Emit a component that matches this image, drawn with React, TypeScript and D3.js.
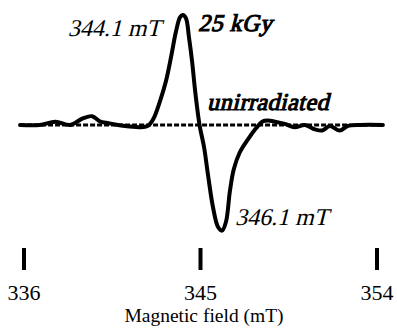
import { useRef, useEffect } from "react";
import * as d3 from "d3";

// 25 kGy spectrum (field in mT, relative intensity)
const irrField = [
  335.8, 336.8, 337.6, 338.35, 339.0, 339.47, 339.9, 340.2, 340.5, 341.15, 341.9, 342.3,
  342.58, 342.94, 343.24, 343.5, 343.75, 343.96, 344.1, 344.26, 344.41, 344.57, 344.72,
  344.87, 344.97, 345.18, 345.38, 345.64, 345.9, 346.1, 346.3, 346.5, 346.7, 347.0,
  347.42, 347.83, 348.14, 348.44, 348.8, 349.3, 349.8, 350.33, 350.84, 351.2, 351.6,
  352.1, 352.5, 353.13, 354.3,
];
const irrSignal = [
  0, 0, 0.03, 0, 0.06, 0.08, 0.03, 0.02, 0.01, -0.01, -0.02, -0.01,
  0.05, 0.22, 0.4, 0.62, 0.85, 0.98, 1.0, 0.97, 0.8, 0.58, 0.32,
  0.1, -0.02, -0.2, -0.45, -0.75, -0.93, -0.96, -0.88, -0.6, -0.4, -0.25,
  -0.13, -0.03, 0.03, 0.04, 0.03, 0.01, -0.02, 0, -0.04, -0.05, -0.01,
  -0.05, -0.01, 0, 0,
];

// unirradiated spectrum
const unField = [335.8, 339.0, 342.0, 345.0, 348.0, 351.0, 354.3];
const unSignal = [0, 0, 0, 0, 0, 0, 0];

const tickValues = [336, 345, 354];

const serif = "Liberation Serif, DejaVu Serif, serif";

export default function App() {
  const svgRef = useRef<SVGSVGElement>(null);

  useEffect(() => {
    const width = 397;
    const height = 331;
    const svg = d3.select(svgRef.current);
    svg.attr("viewBox", `0 0 ${width} ${height}`);
    svg.selectAll("*").remove();

    const x = d3.scaleLinear().domain([336, 354]).range([24, 377]);
    const y = d3.scaleLinear().domain([-1, 1]).range([235, 15]);

    // unirradiated (dashed baseline)
    const unData = unField.map((f, i) => [f, unSignal[i]] as [number, number]);
    svg
      .append("path")
      .datum(unData)
      .attr("fill", "none")
      .attr("stroke", "#000")
      .attr("stroke-width", 3)
      .attr("stroke-dasharray", "5,2")
      .attr(
        "d",
        d3
          .line<[number, number]>()
          .x((d) => x(d[0]))
          .y((d) => y(d[1]))
      );

    // 25 kGy spectrum
    const irrData = irrField.map((f, i) => [f, irrSignal[i]] as [number, number]);
    svg
      .append("path")
      .datum(irrData)
      .attr("fill", "none")
      .attr("stroke", "#000")
      .attr("stroke-width", 4)
      .attr("stroke-linejoin", "round")
      .attr("stroke-linecap", "round")
      .attr(
        "d",
        d3
          .line<[number, number]>()
          .x((d) => x(d[0]))
          .y((d) => y(d[1]))
          .curve(d3.curveCatmullRom.alpha(0.5))
      );

    // axis ticks (no axis line)
    const axis = svg.append("g");
    axis
      .selectAll("line")
      .data(tickValues)
      .enter()
      .append("line")
      .attr("x1", (d) => x(d))
      .attr("x2", (d) => x(d))
      .attr("y1", 248)
      .attr("y2", 270)
      .attr("stroke", "#000")
      .attr("stroke-width", 4);

    axis
      .selectAll("text")
      .data(tickValues)
      .enter()
      .append("text")
      .attr("x", (d) => x(d))
      .attr("y", 300)
      .attr("text-anchor", "middle")
      .attr("font-family", serif)
      .attr("font-size", "22px")
      .text((d) => d);

    svg
      .append("text")
      .attr("x", 204)
      .attr("y", 322)
      .attr("text-anchor", "middle")
      .attr("font-family", serif)
      .attr("font-size", "19.5px")
      .text("Magnetic field (mT)");

    // annotations: slanted serif (italic face is not matched, so skew the upright one)
    const note = (tx: number, ty: number, s: string, bold: boolean, anchor = "start") =>
      svg
        .append("text")
        .attr("transform", `translate(${tx},${ty}) skewX(-14)`)
        .attr("text-anchor", anchor)
        .attr("font-family", serif)
        .attr("font-size", "24px")
        .attr("stroke", bold ? "#000" : "none")
        .attr("stroke-width", bold ? 1.1 : 0)
        .attr("letter-spacing", bold ? "0.5px" : "0px")
        .text(s);

    note(161, 36, "344.1 mT", false, "end");
    note(198, 31, "25  kGy", true);
    note(207, 110, "unirradiated", true);
    note(235, 225, "346.1 mT", false);
  }, []);

  return (
    <svg
      ref={svgRef}
      width={397}
      height={331}
      style={{ position: "absolute", left: 0, top: 0, background: "#fff" }}
    />
  );
}
